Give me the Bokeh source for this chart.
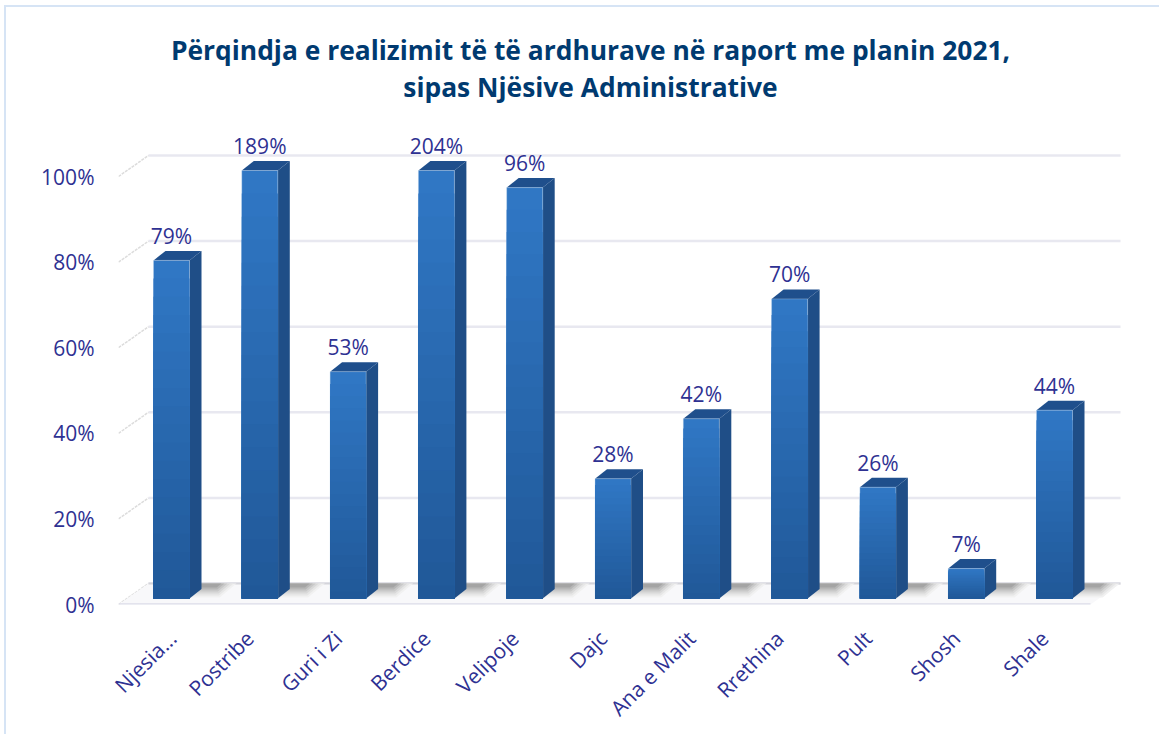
from bokeh.plotting import figure
from bokeh.embed import file_html
from bokeh.resources import INLINE
from bokeh.models import Range1d, FixedTicker, LinearAxis, Label
from bokeh.core.properties import value

title_lines = ["Përqindja e realizimit të të ardhurave në raport me planin 2021,", "sipas Njësive Administrative"]
categories = ["Njesia...", "Postribe", "Guri i Zi", "Berdice", "Velipoje", "Dajc", "Ana e Malit", "Rrethina", "Pult", "Shosh", "Shale"]
values = [79, 189, 53, 204, 96, 28, 42, 70, 26, 7, 44]
labels = ["79%", "189%", "53%", "204%", "96%", "28%", "42%", "70%", "26%", "7%", "44%"]
y_ticks = [0, 20, 40, 60, 80, 100]
y_tick_labels = ["0%", "20%", "40%", "60%", "80%", "100%"]

PX_X = 88.3
PX_Y = 4.28
def dx(px): return px / PX_X
def dy(px): return px / PX_Y

FONT = "Open Sans"
TEXT = "#2e3192"
HALF = 18 / PX_X
BASE = dy(6)
DX, DY = dx(12), dy(9.5)
clipped = [min(v, 100) for v in values]
xs = list(range(len(values)))
tick_xs = [x - dx(10) for x in xs]
tick_xs[0] = dx(1)

FRAME_LEFT, FRAME_BOTTOM = 118, 604
BORDER = "#d6e4f5"
frame_w, frame_h = 1003, FRAME_BOTTOM
bg = f"linear-gradient({BORDER},{BORDER})"
p = figure(width=1159, height=734, frame_width=frame_w, frame_height=frame_h,
           output_backend="svg", toolbar_location=None,
           x_range=Range1d(-53 / PX_X, -53 / PX_X + frame_w / PX_X),
           y_range=Range1d(0, frame_h / PX_Y),
           x_axis_location=None, y_axis_location=None,
           min_border_left=FRAME_LEFT, min_border_right=38, min_border_top=0, min_border_bottom=130,
           styles={"background": f"{bg} 4px 5px / 2px 100% no-repeat, {bg} 4px 5px / 100% 2px no-repeat"})
p.outline_line_color = None
p.grid.visible = False
p.background_fill_color = None
p.border_fill_color = None

for line, cy in zip(title_lines, [49, 86]):
    p.add_layout(Label(x=590 - FRAME_LEFT, y=FRAME_BOTTOM - cy, x_units="screen", y_units="screen", text=line,
                       text_align="center", text_baseline="middle", text_font=FONT,
                       text_font_size="26.4px", text_font_style="bold", text_color="#003a70"))

yax = LinearAxis(ticker=FixedTicker(ticks=y_ticks), major_label_overrides=dict(zip(y_ticks, y_tick_labels)),
                 axis_line_color=None, major_tick_line_color=None, minor_tick_line_color=None,
                 major_label_text_font=FONT, major_label_text_font_size="21px", major_label_text_color=TEXT,
                 major_label_standoff=18)
p.add_layout(yax, "left")

xax = LinearAxis(ticker=FixedTicker(ticks=tick_xs), major_label_overrides=dict(zip(tick_xs, categories)),
                 axis_line_color=None, major_tick_line_color=None, minor_tick_line_color=None,
                 major_label_text_font=FONT, major_label_text_font_size="21px", major_label_text_color=TEXT,
                 major_label_orientation=0.785, major_label_standoff=24)
p.add_layout(xax, "below")

# wall grid and side wall
back_x0, back_x1 = dx(-23), dx(-23) + 972 / PX_X
back_dy = dy(21)
GRID = "#e8e8f0"
for t in y_ticks:
    p.line([back_x0, back_x1], [t + back_dy, t + back_dy], line_color=GRID, line_width=2.5)
    p.line([back_x0 - dx(30), back_x0], [t, t + back_dy], line_color="#dcdcdc", line_width=1.5, line_dash="3 1")

# floor
p.patch([back_x0 - dx(30), back_x1 - dx(30), back_x1, back_x0],
        [0, 0, back_dy, back_dy], fill_color="#f8f8fa", line_color=None)
p.line([back_x0 - dx(30), back_x1 - dx(30)], [0, 0], line_color="#dcdde8", line_width=2.5)
p.line([back_x0, back_x1], [back_dy, back_dy], line_color="#d4d4da", line_width=2)

# shadows on the floor: nested shapes, dark at the back, fading to the front and right
levels = [(47, 14, "#f1f1f1"), (44, 12, "#e6e6e6"), (41, 10, "#d8d8d8"), (38, 8, "#c8c8c8"), (35, 6, "#b6b6b6"), (32, 4, "#a4a4a4")]
for reach, depth, col in levels:
    sx, sy = [], []
    for x in xs:
        r = x + HALF + dx(reach)
        sx.append([x, r, r - dx(1.2 * depth), x])
        sy.append([back_dy, back_dy, back_dy - dy(depth), back_dy - dy(depth)])
    p.patches(sx, sy, fill_color=col, line_color=None)

# bar sides and tops
tops = [BASE + c for c in clipped]
p.patches([[x + HALF, x + HALF + DX, x + HALF + DX, x + HALF] for x in xs],
          [[BASE, BASE + DY, t + DY, t] for t in tops],
          fill_color="#1f4e87", line_color=None)
p.patches([[x - HALF, x + HALF, x + HALF + DX, x - HALF + DX] for x in xs],
          [[t, t, t + DY, t + DY] for t in tops],
          fill_color="#1f4f8c", line_color=None)

# front faces: base bar, then colour bands from top to bottom
p.vbar(x=xs, bottom=BASE, top=tops, width=2 * HALF, fill_color="#3077c4", line_color="#bcd4ee", line_width=1, line_alpha=0.35)
n = 18
c0, c1 = (0x30, 0x77, 0xc4), (0x20, 0x58, 0x98)
for i in range(1, n + 1):
    f = i / n
    col = "#%02x%02x%02x" % tuple(round(a + (b - a) * f) for a, b in zip(c0, c1))
    p.quad(left=[x - HALF for x in xs], right=[x + HALF for x in xs], bottom=BASE,
           top=[BASE + c * (1 - f * 0.97) for c in clipped], fill_color=col, line_color=None)

p.text(x=xs, y=[t + DY + dy(15) for t in tops], text=labels, text_align="center", text_baseline="middle",
       text_font=value(FONT), text_font_size="21px", text_color=TEXT)

open("out.html", "w").write(file_html(p, INLINE))
